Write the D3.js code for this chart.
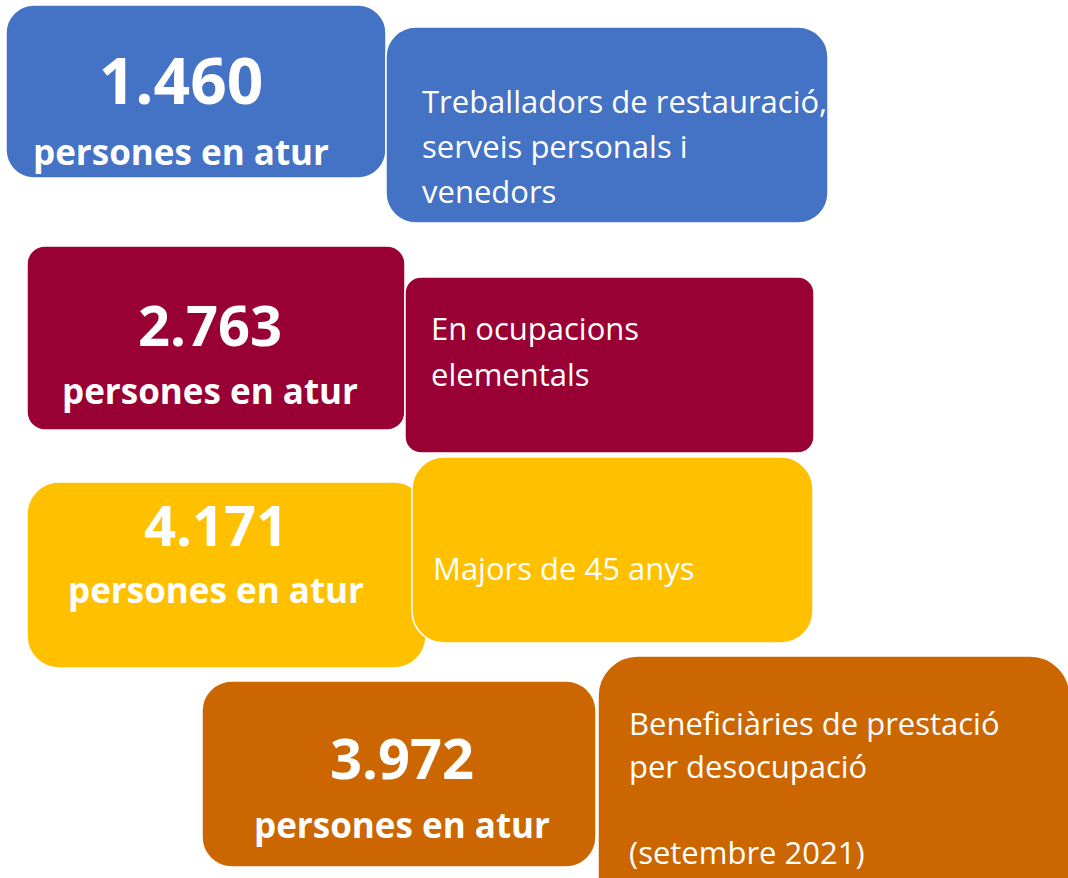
<!DOCTYPE html>
<html>
  <head>
      <meta charset="utf-8">
      <title>Persones en atur</title>
      <script type="text/javascript" src="https://d3js.org/d3.v7.min.js"></script>
      <style>
        body { margin: 0; background: #fff; }
        text { font-family: "Open Sans", "DejaVu Sans", sans-serif; }
      </style>
  </head>
  <body>

    <script type="text/javascript">
    // data
    var values = ["1.460", "2.763", "4.171", "3.972"];
    var unitLabel = "persones en atur";
    var descriptions = [
      ["Treballadors de restauració,", "serveis personals i", "venedors"],
      ["En ocupacions", "elementals"],
      ["Majors de 45 anys"],
      ["Beneficiàries de prestació", "per desocupació", "", "(setembre 2021)"]
    ];
    var colors = ["#4472C4", "#990033", "#FFC000", "#CC6600"];

    // layout of each pair of boxes (left = number, right = description)
    var layout = [
      { l: [6, 5, 380, 173, 28],   r: [386, 27, 442, 196, 30],
        cx: 181, numY: 104, numSize: 64, unitY: 165, descX: 422, descY: 113, lh: 45 },
      { l: [27, 246, 378, 184, 18], r: [405, 277, 409, 176, 16],
        cx: 210, numY: 346, numSize: 56, unitY: 404, descX: 431, descY: 340, lh: 46 },
      { l: [27, 482, 399, 186, 32], r: [412, 457, 401, 186, 32],
        cx: 216, numY: 546, numSize: 56, unitY: 603, descX: 433, descY: 580, lh: 45 },
      { l: [202, 681, 394, 186, 30], r: [598, 656, 472, 260, 40],
        cx: 402, numY: 779, numSize: 56, unitY: 838, descX: 629, descY: 735, lh: 43 }
    ];

    var w = 1068;
    var h = 878;

    var svg = d3.select("body")
                .append("svg")
                .attr("width", w)
                .attr("height", h);

    var groups = svg.selectAll("g.item")
       .data(values)
       .enter()
       .append("g")
       .attr("class", "item");

    // number box
    groups.append("rect")
       .attr("x", function(d, i){ return layout[i].l[0]; })
       .attr("y", function(d, i){ return layout[i].l[1]; })
       .attr("width", function(d, i){ return layout[i].l[2]; })
       .attr("height", function(d, i){ return layout[i].l[3]; })
       .attr("rx", function(d, i){ return layout[i].l[4]; })
       .attr("fill", function(d, i){ return colors[i]; })
       .attr("stroke", "#fff")
       .attr("stroke-width", 1.5);

    // description box (drawn on top)
    groups.append("rect")
       .attr("x", function(d, i){ return layout[i].r[0]; })
       .attr("y", function(d, i){ return layout[i].r[1]; })
       .attr("width", function(d, i){ return layout[i].r[2]; })
       .attr("height", function(d, i){ return layout[i].r[3]; })
       .attr("rx", function(d, i){ return layout[i].r[4]; })
       .attr("fill", function(d, i){ return colors[i]; })
       .attr("stroke", "#fff")
       .attr("stroke-width", 1.5);

    // big number
    groups.append("text")
       .text(function(d){ return d; })
       .attr("x", function(d, i){ return layout[i].cx; })
       .attr("y", function(d, i){ return layout[i].numY; })
       .attr("text-anchor", "middle")
       .attr("font-weight", "bold")
       .attr("font-size", function(d, i){ return layout[i].numSize + "px"; })
       .attr("fill", "#fff");

    // "persones en atur"
    groups.append("text")
       .text(unitLabel)
       .attr("x", function(d, i){ return layout[i].cx; })
       .attr("y", function(d, i){ return layout[i].unitY; })
       .attr("text-anchor", "middle")
       .attr("font-weight", "bold")
       .attr("font-size", "35px")
       .attr("fill", "#fff");

    // description lines
    groups.each(function(d, i){
      d3.select(this).selectAll("text.desc")
        .data(descriptions[i])
        .enter()
        .append("text")
        .attr("class", "desc")
        .text(function(s){ return s; })
        .attr("x", layout[i].descX)
        .attr("y", function(s, j){ return layout[i].descY + j * layout[i].lh; })
        .attr("font-size", "31px")
        .attr("fill", "#fff");
    });

    </script>

  </body>
</html>
